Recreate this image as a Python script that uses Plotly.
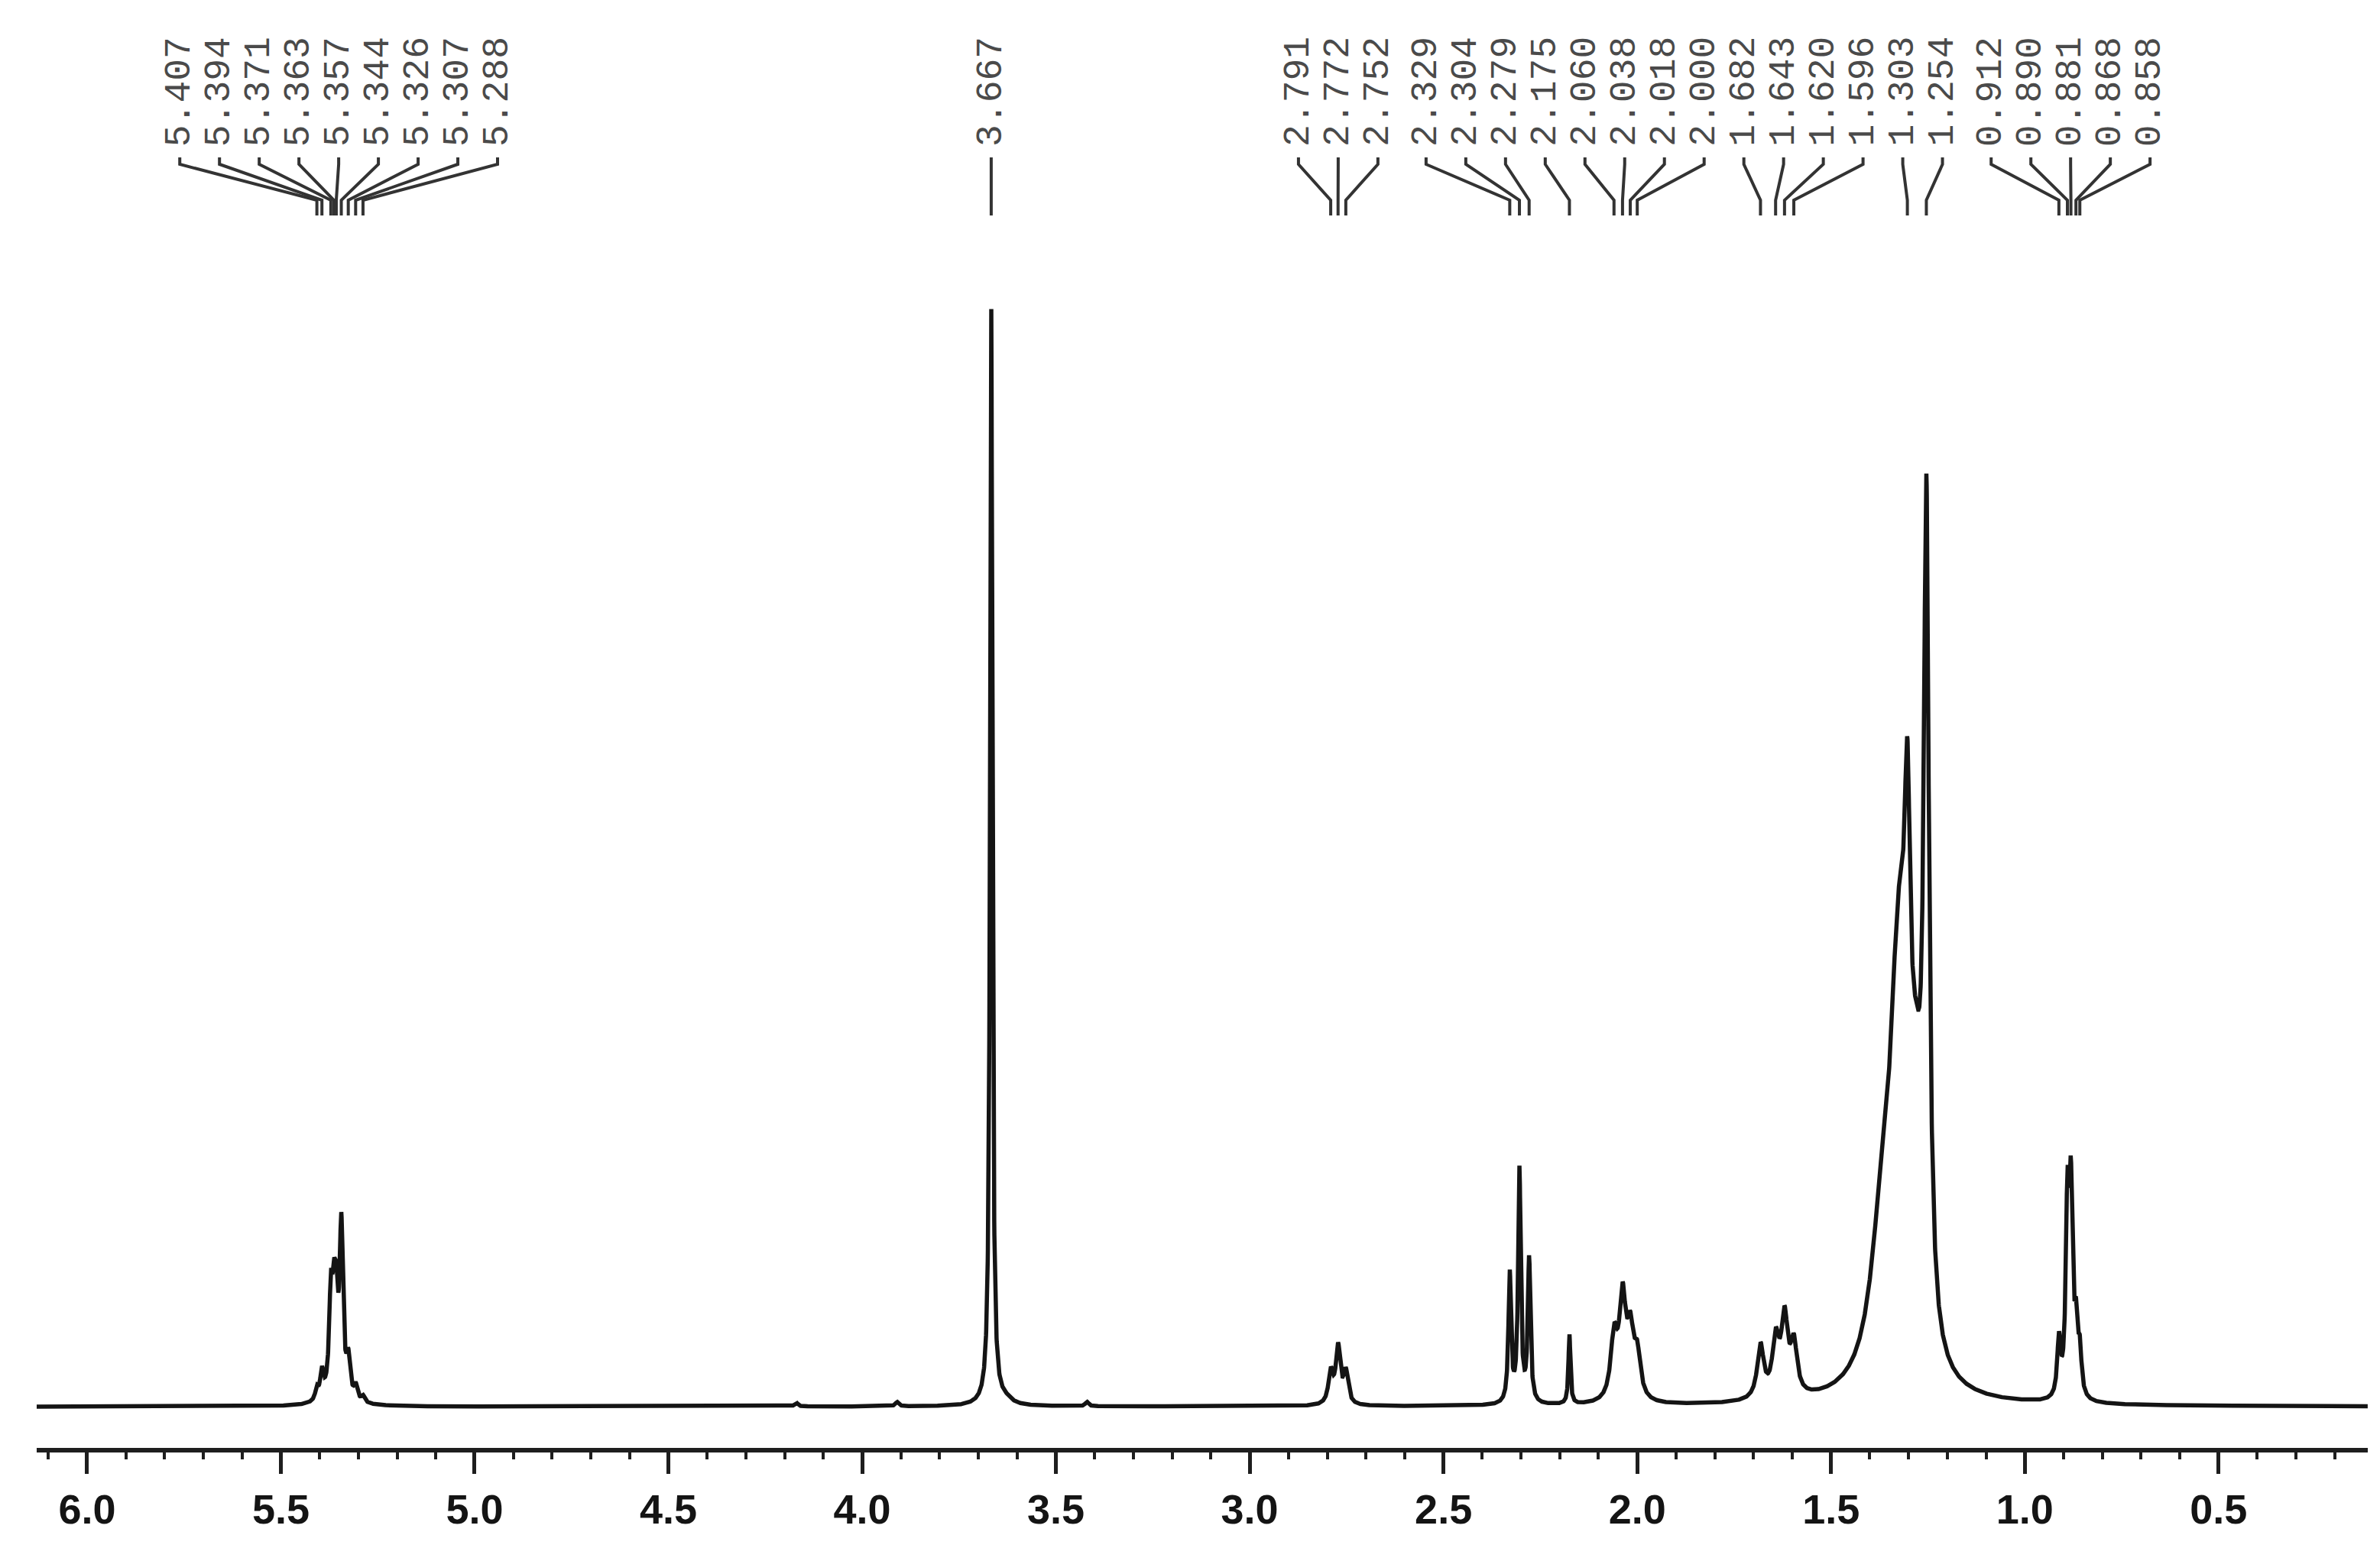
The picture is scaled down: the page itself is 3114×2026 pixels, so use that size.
import numpy as np
import plotly.graph_objects as go

# ---------------- data ----------------
# peak table: position (ppm), height (% of the 3.667 singlet), half width (ppm)
peak_ppm = [5.407, 5.394, 5.371, 5.363, 5.357, 5.344, 5.326, 5.307, 5.288, 5.350,
            4.170, 3.910, 3.667, 3.630, 3.420,
            2.791, 2.772, 2.752,
            2.329, 2.304, 2.279, 2.175,
            2.060, 2.038, 2.018, 2.000,
            1.682, 1.643, 1.620, 1.596,
            1.370, 1.325, 1.303, 1.280, 1.254,
            0.912, 0.890, 0.881, 0.868, 0.858]
peak_height = [1.05, 2.46, 8.6, 6.5, 6.5, 14.9, 3.2, 1.26, 0.56, 1.2,
               0.35, 0.4, 101.0, 0.45, 0.4,
               2.9, 5.2, 2.9,
               11.9, 21.4, 13.2, 6.4,
               5.6, 9.0, 5.6, 3.9,
               4.9, 5.1, 7.0, 4.6,
               11.0, 36.0, 28.2, 15.5, 73.2,
               5.2, 16.9, 17.6, 5.8, 3.9]
peak_width = [0.005, 0.005, 0.005, 0.005, 0.005, 0.005, 0.005, 0.005, 0.005, 0.025,
              0.005, 0.005, 0.0035, 0.02, 0.005,
              0.007, 0.007, 0.007,
              0.004, 0.004, 0.004, 0.003,
              0.010, 0.010, 0.010, 0.010,
              0.010, 0.010, 0.010, 0.010,
              0.035, 0.028, 0.009, 0.020, 0.008,
              0.005, 0.005, 0.005, 0.005, 0.005]

# labelled chemical shifts (top of the spectrum)
label_ppm = [5.407, 5.394, 5.371, 5.363, 5.357, 5.344, 5.326, 5.307, 5.288,
             3.667,
             2.791, 2.772, 2.752,
             2.329, 2.304, 2.279, 2.175, 2.060, 2.038, 2.018, 2.000,
             1.682, 1.643, 1.620, 1.596, 1.303, 1.254,
             0.912, 0.890, 0.881, 0.868, 0.858]
label_text = ["%.3f" % v for v in label_ppm]

tick_vals = [6.0, 5.5, 5.0, 4.5, 4.0, 3.5, 3.0, 2.5, 2.0, 1.5, 1.0, 0.5]
tick_text = ["6.0", "5.5", "5.0", "4.5", "4.0", "3.5", "3.0", "2.5", "2.0", "1.5", "1.0", "0.5"]

# ---------------- spectrum from the peak table ----------------
X_LEFT, X_RIGHT = 6.13, 0.115
ppm = np.arange(X_LEFT, X_RIGHT, -0.0004)
inten = np.zeros_like(ppm)
for c, h, w in zip(peak_ppm, peak_height, peak_width):
    inten += h / (1.0 + ((ppm - c) / w) ** 2)

fig = go.Figure()
fig.add_trace(go.Scatter(x=ppm, y=inten, mode="lines",
                         line=dict(color="#141414", width=5.5),
                         hoverinfo="skip", showlegend=False))

# ---------------- label spreading (multiplet-label style) ----------------
STEP = 0.1025  # ppm between neighbouring labels
order = sorted(range(len(label_ppm)), key=lambda i: -label_ppm[i])
clusters = [[i] for i in order]


def cluster_positions(cl):
    c = float(np.mean([label_ppm[i] for i in cl]))
    n = len(cl)
    return [c + STEP * ((n - 1) / 2.0 - k) for k in range(n)]


changed = True
while changed:
    changed = False
    for j in range(len(clusters) - 1):
        a = cluster_positions(clusters[j])
        b = cluster_positions(clusters[j + 1])
        if a[-1] - b[0] < STEP - 1e-9:
            clusters[j] = clusters[j] + clusters[j + 1]
            del clusters[j + 1]
            changed = True
            break

label_pos = {}
for cl in clusters:
    for i, p in zip(cl, cluster_positions(cl)):
        label_pos[i] = p

H = 1887.0  # plot height in px (margin top 0)


def py(Y):
    return (H - Y) / H


shapes = []
annotations = []
for i in range(len(label_ppm)):
    lx = label_pos[i]
    px = label_ppm[i]
    path = "M %f,%f L %f,%f L %f,%f L %f,%f" % (
        lx, py(198), lx, py(207), px, py(254), px, py(274))
    shapes.append(dict(type="path", path=path, xref="x", yref="paper",
                       line=dict(color="#333333", width=4)))
    annotations.append(dict(x=lx, y=py(186), xref="x", yref="paper",
                            text=label_text[i], textangle=-90, showarrow=False,
                            xanchor="center", yanchor="bottom",
                            font=dict(family="Liberation Mono", size=48, color="#4a4a4a")))

fig.update_layout(
    width=3114, height=2026,
    margin=dict(l=40, r=24, t=0, b=139),
    paper_bgcolor="white", plot_bgcolor="white",
    shapes=shapes, annotations=annotations,
    xaxis=dict(range=[X_LEFT, X_RIGHT], showgrid=False, zeroline=False,
               showline=True, linecolor="#1e1e1e", linewidth=6,
               tickmode="array", tickvals=tick_vals, ticktext=tick_text,
               ticks="outside", ticklen=28, tickwidth=5, tickcolor="#1e1e1e",
               tickfont=dict(family="Liberation Sans Narrow, Liberation Sans",
                             size=54, color="#141414", weight="bold"),
               minor=dict(tickmode="linear", tick0=0, dtick=0.1, ticks="outside",
                          ticklen=9, tickwidth=4, tickcolor="#1e1e1e", showgrid=False)),
    yaxis=dict(visible=False, range=[-3.79, 128.6], fixedrange=True),
)

fig.write_html("out.html")
